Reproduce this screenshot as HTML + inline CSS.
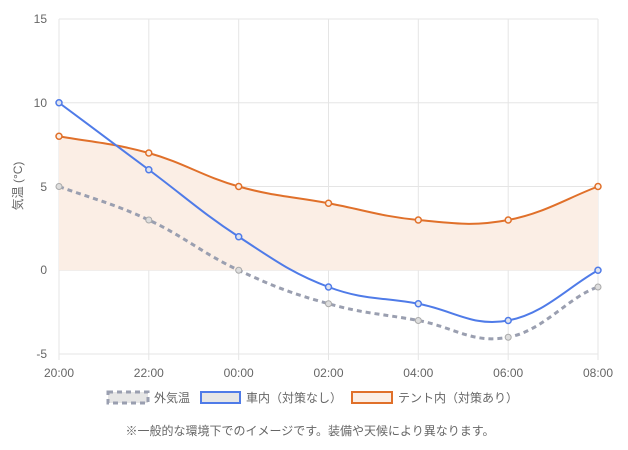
<!DOCTYPE html><html><head><meta charset="utf-8"><style>body{margin:0;background:#fff}svg{display:block;font-family:"Liberation Sans","Noto Sans CJK JP",sans-serif}</style></head><body>
<svg width="628" height="450" viewBox="0 0 628 450">
<g stroke="#e5e5e5" stroke-width="1">
<line x1="59" y1="19" x2="598" y2="19"/><line x1="59" y1="102.75" x2="598" y2="102.75"/><line x1="59" y1="186.5" x2="598" y2="186.5"/><line x1="59" y1="270.25" x2="598" y2="270.25"/><line x1="59" y1="354" x2="598" y2="354"/>
<line x1="59" y1="19" x2="59" y2="360"/><line x1="148.8" y1="19" x2="148.8" y2="360"/><line x1="238.7" y1="19" x2="238.7" y2="360"/><line x1="328.5" y1="19" x2="328.5" y2="360"/><line x1="418.3" y1="19" x2="418.3" y2="360"/><line x1="508.2" y1="19" x2="508.2" y2="360"/><line x1="598" y1="19" x2="598" y2="360"/>
</g>
<g font-size="12" fill="#666" text-anchor="end">
<text x="47" y="23">15</text><text x="47" y="107">10</text><text x="47" y="191">5</text><text x="47" y="274">0</text><text x="47" y="358">-5</text></g>
<g font-size="12" fill="#666" text-anchor="middle">
<text x="59" y="377">20:00</text><text x="148.8" y="377">22:00</text><text x="238.7" y="377">00:00</text><text x="328.5" y="377">02:00</text><text x="418.3" y="377">04:00</text><text x="508.2" y="377">06:00</text><text x="598" y="377">08:00</text></g>
<text transform="translate(22,186) rotate(-90)" font-size="12" fill="#666" text-anchor="middle">気温 (°C)</text>
<path d="M59,136.25 C89,141.8 112.9,142.95 148.8,153 C184.7,163.05 202.8,176.45 238.7,186.5 C274.6,196.55 292.6,196.55 328.5,203.25 C364.4,209.95 382.4,216.65 418.3,220 C454.2,223.35 472.3,226.7 508.2,220 C544.1,213.3 568,197.7 598,186.5 L598,270.25 L59,270.25 Z" fill="#fbeee5"/>
<path d="M59,136.25 C89,141.8 112.9,142.95 148.8,153 C184.7,163.05 202.8,176.45 238.7,186.5 C274.6,196.55 292.6,196.55 328.5,203.25 C364.4,209.95 382.4,216.65 418.3,220 C454.2,223.35 472.3,226.7 508.2,220 C544.1,213.3 568,197.7 598,186.5" fill="none" stroke="#e0702a" stroke-width="2"/>
<path d="M59,186.5 C89,197.6 112.9,203.25 148.8,220 C184.7,236.75 202.8,253.5 238.7,270.25 C274.6,287 292.6,293.7 328.5,303.75 C364.4,313.8 382.4,313.8 418.3,320.5 C454.2,327.2 472.3,344 508.2,337.25 C544.1,330.5 568,297 598,287" fill="none" stroke="#9a9fb0" stroke-width="3" stroke-dasharray="5,4"/>
<path d="M59,102.75 C89,125 112.9,142.95 148.8,169.75 C184.7,196.55 202.8,213.3 238.7,236.75 C274.6,260.2 292.6,273.6 328.5,287 C364.4,300.4 382.4,297 418.3,303.75 C454.2,310.45 472.3,327.2 508.2,320.5 C544.1,313.8 568,287 598,270.25" fill="none" stroke="#4f7be8" stroke-width="2"/>
<g fill="#fbeee5" stroke="#e0702a" stroke-width="1.5">
<circle cx="59" cy="136.25" r="3"/><circle cx="148.8" cy="153" r="3"/><circle cx="238.7" cy="186.5" r="3"/><circle cx="328.5" cy="203.25" r="3"/><circle cx="418.3" cy="220" r="3"/><circle cx="508.2" cy="220" r="3"/><circle cx="598" cy="186.5" r="3"/></g>
<g fill="#ddd" stroke="#aaa" stroke-width="1">
<circle cx="59" cy="186.5" r="3"/><circle cx="148.8" cy="220" r="3"/><circle cx="238.7" cy="270.25" r="3"/><circle cx="328.5" cy="303.75" r="3"/><circle cx="418.3" cy="320.5" r="3"/><circle cx="508.2" cy="337.25" r="3"/><circle cx="598" cy="287" r="3"/></g>
<g fill="#dfe3ee" stroke="#4f7be8" stroke-width="1.5">
<circle cx="59" cy="102.75" r="3"/><circle cx="148.8" cy="169.75" r="3"/><circle cx="238.7" cy="236.75" r="3"/><circle cx="328.5" cy="287" r="3"/><circle cx="418.3" cy="303.75" r="3"/><circle cx="508.2" cy="320.5" r="3"/><circle cx="598" cy="270.25" r="3"/></g>
<rect x="108" y="392" width="40" height="11" fill="#e6e6e6" stroke="#9a9fb0" stroke-width="3" stroke-dasharray="5,4"/>
<text x="154" y="402" font-size="12" fill="#666">外気温</text>
<rect x="201" y="392" width="39" height="11" fill="#e6e6e6" stroke="#4f7be8" stroke-width="2"/>
<text x="246" y="402" font-size="12" fill="#666">車内（対策なし）</text>
<rect x="352" y="392" width="40" height="11" fill="#fbeee5" stroke="#e0702a" stroke-width="2"/>
<text x="398" y="402" font-size="12" fill="#666">テント内（対策あり）</text>
<text x="310" y="435" font-size="12" fill="#666" text-anchor="middle">※一般的な環境下でのイメージです。装備や天候により異なります。</text>
</svg></body></html>
